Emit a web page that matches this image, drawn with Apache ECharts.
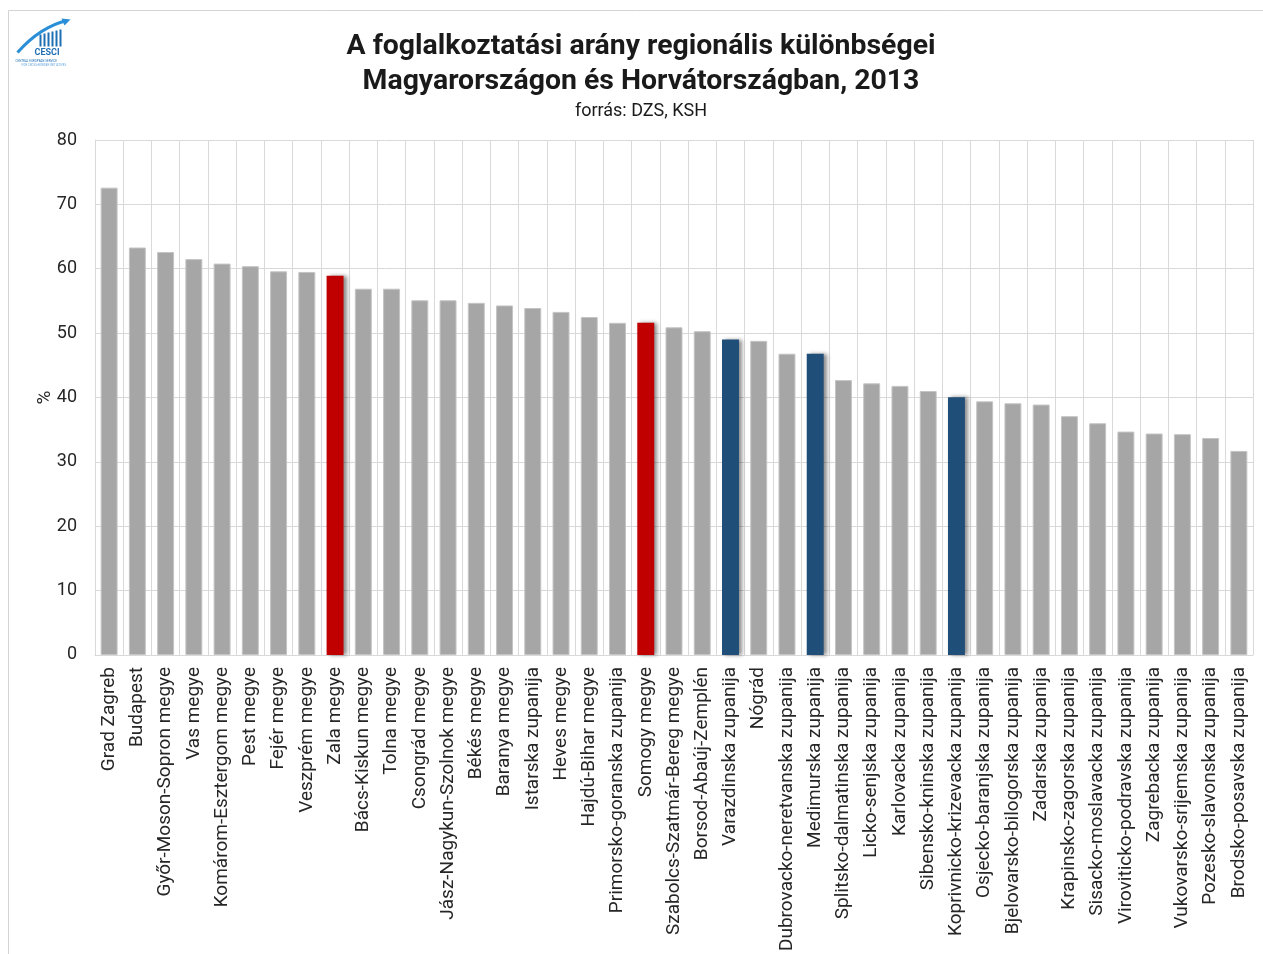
<!DOCTYPE html>
<html>
<head>
<meta charset="utf-8">
<script src="https://cdn.jsdelivr.net/npm/echarts@6/dist/echarts.min.js"></script>
<style>
html,body{margin:0;padding:0;background:#fff;}
#chart{width:1263px;height:954px;}
</style>
</head>
<body>
<div id="chart"></div>
<script>
const categories = [
  'Grad Zagreb','Budapest','Győr-Moson-Sopron megye','Vas megye','Komárom-Esztergom megye',
  'Pest megye','Fejér megye','Veszprém megye','Zala megye','Bács-Kiskun megye',
  'Tolna megye','Csongrád megye','Jász-Nagykun-Szolnok megye','Békés megye','Baranya megye',
  'Istarska zupanija','Heves megye','Hajdú-Bihar megye','Primorsko-goranska zupanija','Somogy megye',
  'Szabolcs-Szatmár-Bereg megye','Borsod-Abaúj-Zemplén','Varazdinska zupanija','Nógrád','Dubrovacko-neretvanska zupanija',
  'Medimurska zupanija','Splitsko-dalmatinska zupanija','Licko-senjska zupanija','Karlovacka zupanija','Sibensko-kninska zupanija',
  'Koprivnicko-krizevacka zupanija','Osjecko-baranjska zupanija','Bjelovarsko-bilogorska zupanija','Zadarska zupanija','Krapinsko-zagorska zupanija',
  'Sisacko-moslavacka zupanija','Viroviticko-podravska zupanija','Zagrebacka zupanija','Vukovarsko-srijemska zupanija','Pozesko-slavonska zupanija',
  'Brodsko-posavska zupanija'
];
const values = [
  72.6, 63.3, 62.6, 61.5, 60.8,
  60.4, 59.6, 59.5, 58.9, 56.9,
  56.9, 55.1, 55.1, 54.7, 54.3,
  53.9, 53.3, 52.5, 51.6, 51.6,
  50.9, 50.3, 49.0, 48.8, 46.8,
  46.8, 42.7, 42.2, 41.8, 41.0,
  40.05, 39.4, 39.1, 38.9, 37.1,
  36.0, 34.7, 34.4, 34.3, 33.7,
  31.7
];
const highlightedHU = ['Zala megye','Somogy megye'];
const highlightedHR = ['Varazdinska zupanija','Medimurska zupanija','Koprivnicko-krizevacka zupanija'];
const yTicks = [0,10,20,30,40,50,60,70,80];

const titleLines = ['A foglalkoztatási arány regionális különbségei','Magyarországon és Horvátországban, 2013'];
const subtitle = 'forrás: DZS, KSH';
const yName = '%';

const GREY = '#a6a6a6', RED = '#c00000', BLUE = '#1f4e79';
const shadowStyle = {shadowColor:'rgba(0,0,0,0.45)', shadowBlur:4, shadowOffsetX:3, shadowOffsetY:0};

const barData = categories.map((c,i) => {
  let style = {color: GREY, borderColor:'#c4c4c4', borderWidth:1};
  if (highlightedHU.includes(c)) style = Object.assign({color: RED}, shadowStyle);
  if (highlightedHR.includes(c)) style = Object.assign({color: BLUE}, shadowStyle);
  return {value: values[i], itemStyle: style};
});

const chart = echarts.init(document.getElementById('chart'), null, {renderer:'canvas'});
const FONT = 'Roboto';
chart.setOption({
  backgroundColor:'#fff',
  animation:false,
  title:{
    text: titleLines.join('\n'),
    subtext: subtitle,
    left: 636, top: 24, textAlign:'center',
    itemGap: 3,
    textStyle:{fontFamily:FONT, fontWeight:'bold', fontSize:28.4, lineHeight:35, color:'#1a1a1a'},
    subtextStyle:{fontFamily:FONT, fontSize:18, color:'#1a1a1a'}
  },
  grid:{left:95, right:10, top:140, bottom:297, containLabel:false},
  xAxis:{
    type:'category',
    data: categories,
    boundaryGap:true,
    axisLine:{show:true, lineStyle:{color:'#d9d9d9', width:1}},
    axisTick:{show:false},
    splitLine:{show:true, lineStyle:{color:'#d9d9d9', width:1}},
    axisLabel:{rotate:90, interval:0, margin:12, fontFamily:FONT, fontSize:19, color:'#262626'}
  },
  yAxis:{
    type:'value', min:0, max:80, interval:10,
    name: yName, nameLocation:'middle', nameGap:40, nameRotate:90, nameMoveOverlap:false,
    nameTextStyle:{fontFamily:FONT, fontSize:19, color:'#262626'},
    axisLine:{show:true, lineStyle:{color:'#d9d9d9'}},
    axisTick:{show:false},
    splitLine:{show:true, lineStyle:{color:'#d9d9d9', width:1}},
    axisLabel:{margin:18, fontFamily:FONT, fontSize:18, color:'#262626',
      formatter: v => yTicks.includes(v) ? String(v) : ''}
  },
  series:[{
    type:'bar',
    data: barData,
    barWidth:'60%',
    silent:true
  }],
  graphic:[
    {type:'rect', shape:{x:8.5, y:10.5, width:1300, height:1000}, style:{fill:'none', stroke:'#d4d4d4', lineWidth:1}, silent:true, z:-1},
    // logo approximation
    {type:'group', left:15, top:18, children:[
      {type:'bezierCurve', shape:{x1:2, y1:34, x2:52, y2:2, cpx1:18, cpy1:16, cpx2:34, cpy2:6}, style:{stroke:'#2a8fd6', lineWidth:3, fill:'none'}},
      {type:'polygon', shape:{points:[[46,0],[55,1],[49,7]]}, style:{fill:'#2a8fd6'}},
      {type:'rect', shape:{x:24, y:16, width:2, height:12}, style:{fill:'#1f6fb5'}},
      {type:'rect', shape:{x:28, y:15, width:2, height:13}, style:{fill:'#1f6fb5'}},
      {type:'rect', shape:{x:32, y:14, width:2, height:14}, style:{fill:'#1f6fb5'}},
      {type:'rect', shape:{x:36, y:13, width:2, height:15}, style:{fill:'#1f6fb5'}},
      {type:'rect', shape:{x:40, y:12, width:2, height:16}, style:{fill:'#1f6fb5'}},
      {type:'rect', shape:{x:44, y:11, width:2, height:17}, style:{fill:'#1f6fb5'}},
      {type:'text', style:{x:19, y:30, text:'CESCI', fill:'#1f6fb5', font:'bold 9px Roboto'}},
      {type:'text', style:{x:0, y:41, text:'CENTRAL EUROPEAN SERVICE', fill:'#1f6fb5', font:'3px Roboto'}},
      {type:'text', style:{x:6, y:45, text:'FOR CROSS-BORDER INITIATIVES', fill:'#6aa9dd', font:'3px Roboto'}}
    ]}
  ]
});
</script>
</body>
</html>
